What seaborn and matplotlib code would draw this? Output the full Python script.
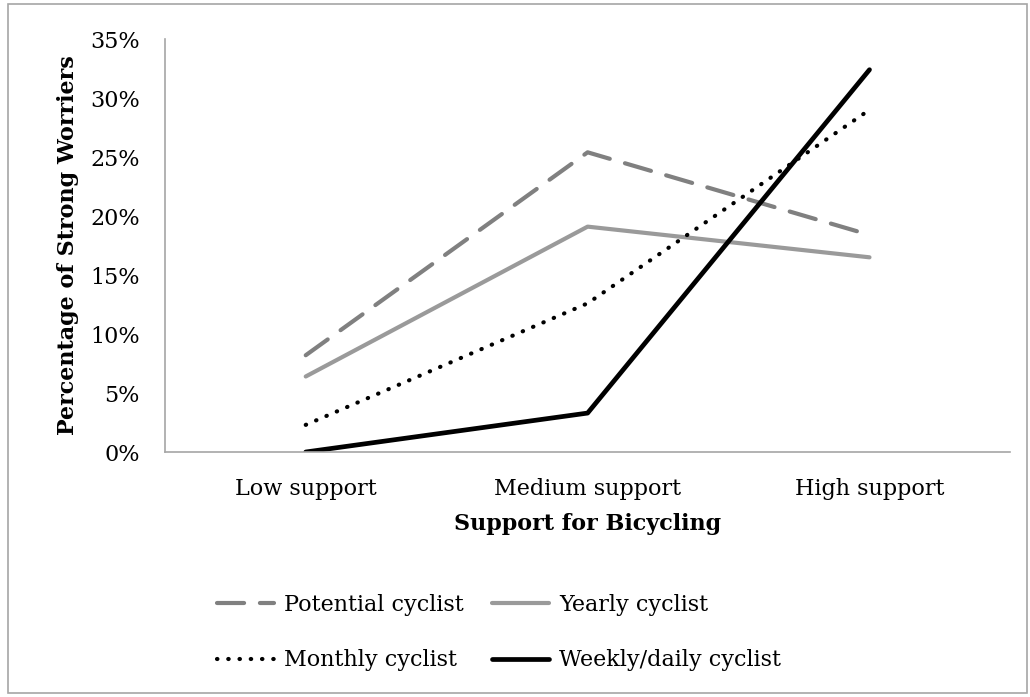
import pandas as pd
import seaborn as sns
import matplotlib.pyplot as plt
from matplotlib.ticker import PercentFormatter, FixedLocator
from matplotlib.patches import Rectangle

# ----- data -----
categories = ["Low support", "Medium support", "High support"]
potential = [8.2, 25.4, 18.4]
yearly = [6.4, 19.1, 16.5]
monthly = [2.3, 12.6, 29.0]
weekly = [0.0, 3.3, 32.4]
series_names = ["Potential cyclist", "Yearly cyclist", "Monthly cyclist", "Weekly/daily cyclist"]

# ----- general figure configuration -----
sns.set_style("white")
plt.rcParams["font.family"] = ["DejaVu Serif"]
plt.rcParams["font.size"] = 16
plt.rcParams["text.color"] = "black"
plt.rcParams["axes.labelcolor"] = "black"
plt.rcParams["xtick.color"] = "black"
plt.rcParams["ytick.color"] = "black"

styles = {
    "Potential cyclist": dict(color="#808080", linestyle=(0, (6.5, 3.8)), linewidth=3.0, dash_capstyle="round"),
    "Yearly cyclist": dict(color="#9a9a9a", linestyle="-", linewidth=3.0, solid_capstyle="round"),
    "Monthly cyclist": dict(color="black", linestyle=(0, (0.1, 2.6)), linewidth=3.0, dash_capstyle="round"),
    "Weekly/daily cyclist": dict(color="black", linestyle="-", linewidth=3.4, solid_capstyle="round"),
}

df = pd.DataFrame({
    "support": categories * 4,
    "value": potential + yearly + monthly + weekly,
    "series": [s for s in series_names for _ in categories],
})

fig = plt.figure(figsize=(10.3, 6.97), dpi=100)
ax = fig.add_axes([0.16, 0.3515, 0.821, 0.5925])

for name in series_names:
    sub = df[df["series"] == name]
    sns.lineplot(data=sub, x="support", y="value", ax=ax, label=name, **styles[name])

ax.set_xlim(-0.5, 2.5)
ax.set_ylim(0, 35)
ax.yaxis.set_major_locator(FixedLocator(range(0, 36, 5)))
ax.yaxis.set_major_formatter(PercentFormatter(decimals=0))

# category ticks between groups, labels at centers
ax.xaxis.set_major_locator(FixedLocator([-0.5, 0.5, 1.5, 2.5]))
ax.xaxis.set_minor_locator(FixedLocator([0, 1, 2]))
ax.set_xticklabels([""] * 4)
ax.set_xticklabels(categories, minor=True)
ax.tick_params(axis="x", which="minor", length=0, pad=19, labelsize=16)
ax.tick_params(axis="x", which="major", length=7, width=1.2, color="#a6a6a6", direction="out")
ax.tick_params(axis="y", length=7, width=1.2, color="#a6a6a6", direction="out", pad=11, labelsize=16)

for s in ["top", "right"]:
    ax.spines[s].set_visible(False)
for s in ["left", "bottom"]:
    ax.spines[s].set_color("#a6a6a6")
    ax.spines[s].set_linewidth(1.2)

ax.set_xlabel("Support for Bicycling", fontweight="bold", fontsize=16, labelpad=9)
ax.set_ylabel("Percentage of Strong Worriers", fontweight="bold", fontsize=16, labelpad=8)

# Excel-style legend: filled row by row
handles, labels = ax.get_legend_handles_labels()
order = [0, 2, 1, 3]
ax.legend([handles[i] for i in order], [labels[i] for i in order],
          loc="upper left", bbox_to_anchor=(217 / 1030, 1 - 594 / 697), bbox_transform=fig.transFigure,
          ncol=2, frameon=False, borderpad=0, borderaxespad=0,
          handlelength=2.55, handletextpad=0.45, columnspacing=1.3, labelspacing=1.5, fontsize=16)

fig.patches.append(Rectangle((8 / 1030, 4 / 697), 1 - 11 / 1030, 1 - 8 / 697, transform=fig.transFigure,
                             fill=False, edgecolor="#a6a6a6", linewidth=1.2))

plt.savefig("out.png", dpi=100)
